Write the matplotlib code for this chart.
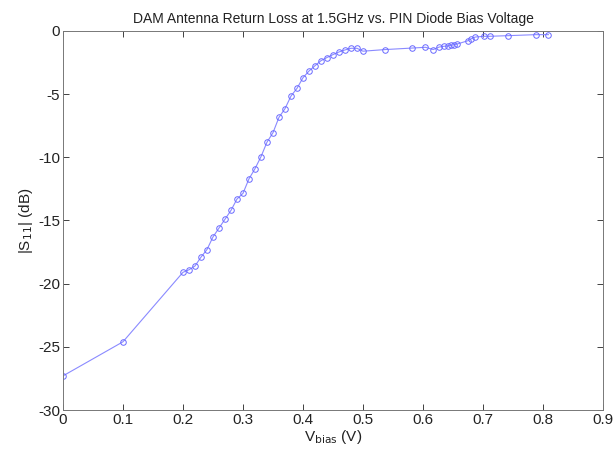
import matplotlib
matplotlib.use('Agg')
import matplotlib.pyplot as plt

plt.rcParams['font.family'] = ['Liberation Sans', 'DejaVu Sans']
plt.rcParams['axes.unicode_minus'] = False

# bias voltage (V) and return loss (dB)
v_bias = [0.0, 0.1, 0.20, 0.21, 0.22, 0.23, 0.24, 0.25, 0.26, 0.27, 0.28, 0.29,
          0.30, 0.31, 0.32, 0.33, 0.34, 0.35, 0.36, 0.37, 0.38, 0.39, 0.40,
          0.41, 0.42, 0.43, 0.44, 0.45, 0.46, 0.47, 0.48, 0.49, 0.50, 0.537,
          0.582, 0.604, 0.617, 0.627, 0.635, 0.641, 0.647, 0.652, 0.657,
          0.675, 0.68, 0.687, 0.701, 0.711, 0.742, 0.788, 0.809]
s11_db = [-27.3, -24.6, -19.1, -18.9, -18.6, -17.9, -17.3, -16.3, -15.6, -14.9,
          -14.2, -13.3, -12.85, -11.7, -10.9, -9.95, -8.8, -8.05, -6.83, -6.15,
          -5.15, -4.54, -3.7, -3.17, -2.75, -2.35, -2.1, -1.87, -1.66, -1.5,
          -1.37, -1.37, -1.6, -1.47, -1.35, -1.29, -1.47, -1.27, -1.21, -1.19,
          -1.13, -1.08, -1.03, -0.77, -0.62, -0.48, -0.42, -0.42, -0.37, -0.29,
          -0.29]

fig = plt.figure(figsize=(6.15, 4.53), dpi=100)
ax = fig.add_axes([0.1024, 0.0949, 0.8781, 0.8367])

ax.plot(v_bias, s11_db, color='#8a8aff', linewidth=0.8, marker='o',
        markersize=4, markerfacecolor='none', markeredgecolor='#6a6aff',
        markeredgewidth=0.7)

ax.set_xlim(0, 0.9)
ax.set_ylim(-30, 0)
ax.set_xticks([0, 0.1, 0.2, 0.3, 0.4, 0.5, 0.6, 0.7, 0.8, 0.9])
ax.set_xticklabels(['0', '0.1', '0.2', '0.3', '0.4', '0.5', '0.6', '0.7', '0.8', '0.9'])
ax.set_yticks([-30, -25, -20, -15, -10, -5, 0])
ax.tick_params(direction='in', length=4, width=0.6, labelsize=11,
               top=True, right=True, colors='#222222', pad=2)
for s in ax.spines.values():
    s.set_linewidth(0.7)
    s.set_color('#777777')

ax.set_title('DAM Antenna Return Loss at 1.5GHz vs. PIN Diode Bias Voltage',
             fontsize=10, color='#222222', pad=6)
ax.set_xlabel('V$_{\\mathrm{bias}}$ (V)', fontsize=11, color='#222222', labelpad=1)
ax.set_ylabel('|S$_{\\mathrm{11}}$| (dB)', fontsize=11, color='#222222', labelpad=2)

fig.savefig('out.png', dpi=100)
